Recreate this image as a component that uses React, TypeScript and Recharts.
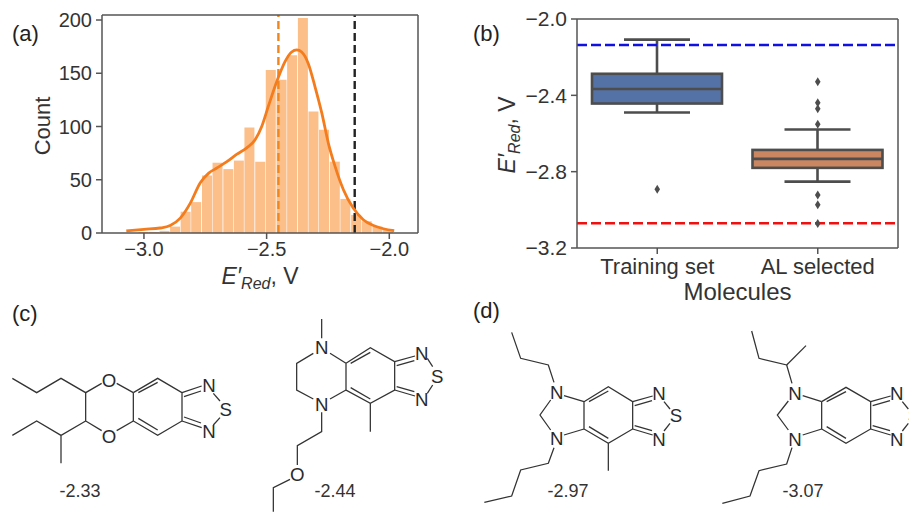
import React from "react";
import {
  Bar,
  ComposedChart,
  Line,
  ReferenceLine,
  XAxis,
  YAxis,
} from "recharts";

// panel (a) histogram
const binCenters = [
  -3.001, -2.958, -2.915, -2.872, -2.829, -2.786, -2.742, -2.699, -2.655, -2.612, -2.569, -2.525,
  -2.482, -2.438, -2.395, -2.351, -2.308, -2.265, -2.221, -2.178, -2.134, -2.091, -2.047, -2.004,
];
const binCounts = [1, 1, 2, 6, 20, 29, 54, 66, 60, 68, 99, 67, 153, 144, 167, 202, 114, 97, 67, 32, 17, 11, 6, 3];

// kde curve
const kdeX = [
  -3.072, -3.0, -2.934, -2.893, -2.852, -2.811, -2.771, -2.737, -2.703, -2.662, -2.621, -2.581, -2.547, -2.52,
  -2.493, -2.459, -2.425, -2.398, -2.377, -2.357, -2.33, -2.303, -2.275, -2.248, -2.221, -2.187, -2.147, -2.106,
  -2.065, -2.024, -1.98,
];
const kdeY = [
  2, 3.5, 4.7, 7, 14, 28, 47, 56, 61, 67, 74, 80, 87.5, 100, 119, 142, 161, 170, 172, 170, 159, 137.5, 112.5, 84,
  62.5, 40.6, 23.4, 12.5, 7, 4, 2.2,
];
const histTicksX = [-3, -2.5, -2];
const histTicksY = [0, 50, 100, 150, 200];
const meanLine = -2.452;
const limitLine = -2.141;

// panel (b) box plot
const groups = ["Training set", "AL selected"];
const whiskerLow = [-2.49, -2.852];
const q1 = [-2.443, -2.78];
const medians = [-2.367, -2.733];
const q3 = [-2.287, -2.686];
const whiskerHigh = [-2.108, -2.579];
const boxColors = ["#5572a6", "#c98660"];
const outliers = [[-2.892], [-2.329, -2.439, -2.47, -2.551, -2.922, -2.973, -3.072]];
const boxTicksY = [-3.2, -2.8, -2.4, -2.0];
const upperLimit = -2.136;
const lowerLimit = -3.07;

// molecule labels
const moleculeValues = ["-2.33", "-2.44", "-2.97", "-3.07"];

const histRows = binCenters.map((x, i) => ({ x, count: binCounts[i] }));
const kdeRows = kdeX.map((x, i) => ({ x, kde: kdeY[i] }));

const boxRows = groups.map((name, i) => {
  const row: any = {
    name,
    box: [q1[i], q3[i]],
    low: whiskerLow[i],
    q1: q1[i],
    median: medians[i],
    q3: q3[i],
    high: whiskerHigh[i],
    fill: boxColors[i],
  };
  outliers[i].forEach((v, j) => {
    row[`o${j}`] = v;
  });
  return row;
});

const FONT = "'Liberation Sans', Arial, sans-serif";
const SPINE = "#555555";
const TEXT = "#333333";
const BOX_LINE = "#4d4d4d";

const minus = (v: number, digits: number) => v.toFixed(digits).replace("-", "\u2212");

const tickStyle = { fontSize: 20, fill: TEXT, fontFamily: FONT };
const axisLine = { stroke: SPINE, strokeWidth: 1.5 };
const tickLine = { stroke: SPINE, strokeWidth: 1.5 };

function BoxShape(props: any) {
  const { x, y, width, height, payload } = props;
  // bar spans q1..q3 so its pixel height gives the y scale
  const perUnit = height / (payload.q3 - payload.q1);
  const toY = (v: number) => y + (payload.q3 - v) * perUnit;
  const cx = x + width / 2;
  const capHalf = 33;
  return (
    <g stroke={BOX_LINE} strokeWidth={2.6} fill="none">
      <line x1={cx} x2={cx} y1={toY(payload.high)} y2={y} />
      <line x1={cx} x2={cx} y1={y + height} y2={toY(payload.low)} />
      <line x1={cx - capHalf} x2={cx + capHalf} y1={toY(payload.high)} y2={toY(payload.high)} />
      <line x1={cx - capHalf} x2={cx + capHalf} y1={toY(payload.low)} y2={toY(payload.low)} />
      <rect x={x} y={y} width={width} height={height} fill={payload.fill} />
      <line x1={x} x2={x + width} y1={toY(payload.median)} y2={toY(payload.median)} />
    </g>
  );
}

function Diamond(props: any) {
  const { cx, cy, index } = props;
  if (cx == null || cy == null) return <g key={index} />;
  return (
    <polygon
      key={index}
      points={`${cx},${cy - 4.5} ${cx + 2.8},${cy} ${cx},${cy + 4.5} ${cx - 2.8},${cy}`}
      fill={BOX_LINE}
    />
  );
}

function HistPanel() {
  return (
    <div style={{ position: "absolute", left: 0, top: 0 }}>
      <ComposedChart
        width={440}
        height={290}
        data={histRows}
        margin={{ top: 0, right: 0, bottom: 0, left: 0 }}
        barGap={0}
      >
        <XAxis
          dataKey="x"
          type="number"
          domain={[-3.171, -1.883]}
          allowDataOverflow
          ticks={histTicksX}
          tickFormatter={(v: number) => minus(v, 1)}
          tick={tickStyle}
          axisLine={axisLine}
          tickLine={tickLine}
          tickSize={6}
          tickMargin={3}
          height={57}
          interval={0}
        />
        <XAxis
          xAxisId="top"
          orientation="top"
          dataKey="x"
          type="number"
          domain={[-3.171, -1.883]}
          allowDataOverflow
          ticks={histTicksX}
          tick={false}
          axisLine={axisLine}
          tickLine={tickLine}
          tickSize={6}
          height={15}
        />
        <YAxis
          domain={[0, 204.7]}
          allowDataOverflow
          ticks={histTicksY}
          tick={tickStyle}
          axisLine={axisLine}
          tickLine={tickLine}
          tickSize={6}
          tickMargin={4}
          width={102}
          interval={0}
          label={{
            value: "Count",
            angle: -90,
            position: "center",
            dx: -9,
            dy: 2,
            style: { fontSize: 22, fill: TEXT, fontFamily: FONT },
          }}
        />
        <YAxis
          yAxisId="right"
          orientation="right"
          domain={[0, 204.7]}
          allowDataOverflow
          ticks={histTicksY}
          tick={false}
          axisLine={axisLine}
          tickLine={tickLine}
          tickSize={6}
          width={22}
        />
        <Bar dataKey="count" barSize={10} fill="#fcbf8a" isAnimationActive={false} />
        <ReferenceLine x={meanLine} stroke="#f0861e" strokeWidth={2.4} strokeDasharray="8 4" />
        <ReferenceLine x={limitLine} stroke="#222222" strokeWidth={2.4} strokeDasharray="8 4" />
        {/* on the top axis so the curve's x values don't narrow the bars */}
        <Line
          xAxisId="top"
          data={kdeRows}
          dataKey="kde"
          type="monotone"
          stroke="#f47c1c"
          strokeWidth={2.8}
          dot={false}
          isAnimationActive={false}
        />
      </ComposedChart>
    </div>
  );
}

function BoxPanel() {
  return (
    <div style={{ position: "absolute", left: 450, top: 0 }}>
      <ComposedChart
        width={459}
        height={308}
        data={boxRows}
        margin={{ top: 0, right: 0, bottom: 0, left: 0 }}
      >
        <XAxis
          dataKey="name"
          tick={{ ...tickStyle, fontSize: 22 }}
          axisLine={axisLine}
          tickLine={tickLine}
          tickSize={6}
          tickMargin={4}
          height={60}
          interval={0}
          label={{
            value: "Molecules",
            position: "insideBottom",
            offset: 8,
            style: { fontSize: 24, fill: TEXT, fontFamily: FONT },
          }}
        />
        <XAxis
          xAxisId="top"
          orientation="top"
          dataKey="name"
          tick={false}
          axisLine={axisLine}
          tickLine={tickLine}
          tickSize={6}
          height={19}
        />
        <YAxis
          domain={[-3.2, -2.0]}
          ticks={boxTicksY}
          tickFormatter={(v: number) => minus(v, 1)}
          tick={{ ...tickStyle, fontSize: 21 }}
          axisLine={axisLine}
          tickLine={tickLine}
          tickSize={6}
          tickMargin={4}
          width={127}
          interval={0}
        />
        <YAxis
          yAxisId="right"
          orientation="right"
          domain={[-3.2, -2.0]}
          ticks={boxTicksY}
          tick={false}
          axisLine={axisLine}
          tickLine={tickLine}
          tickSize={6}
          width={11}
        />
        <ReferenceLine y={upperLimit} stroke="#1010e0" strokeWidth={2.5} strokeDasharray="10 4" />
        <ReferenceLine y={lowerLimit} stroke="#f01010" strokeWidth={2.5} strokeDasharray="10 4" />
        <Bar dataKey="box" barSize={130} shape={<BoxShape />} isAnimationActive={false} />
        {outliers[1].map((_, j) => (
          <Line
            key={j}
            dataKey={`o${j}`}
            stroke="none"
            dot={<Diamond />}
            activeDot={false}
            isAnimationActive={false}
          />
        ))}
      </ComposedChart>
    </div>
  );
}

// skeletal formulas, coordinates in 3x crop units of each bottom half
const molCLines = [
  [37, 250, 110, 293, 183, 250, 257, 293, 305, 265],
  [350, 265, 400, 293],
  [257, 293, 257, 378, 305, 407],
  [350, 407, 400, 378],
  [257, 378, 183, 421, 183, 505],
  [183, 421, 110, 378, 37, 421],
  [400, 293, 473, 250, 546, 293, 546, 378, 473, 421, 400, 378, 400, 293],
  [415, 293, 473, 262],
  [415, 370, 473, 405],
  [546, 293, 605, 273],
  [552, 305, 603, 288],
  [546, 378, 605, 398],
  [552, 366, 603, 384],
  [640, 295, 660, 318],
  [660, 368, 640, 390],
  // second molecule
  [965, 72, 965, 130],
  [940, 175, 890, 205, 890, 285, 940, 312],
  [990, 175, 1038, 205],
  [990, 312, 1038, 285],
  [1038, 205, 1111, 158, 1184, 200, 1184, 285, 1111, 325, 1038, 285, 1038, 205],
  [1052, 205, 1111, 172],
  [1052, 278, 1111, 312],
  [1111, 325, 1111, 410],
  [1184, 200, 1245, 183],
  [1190, 212, 1243, 197],
  [1184, 285, 1245, 303],
  [1190, 275, 1243, 290],
  [1282, 190, 1298, 215],
  [1298, 270, 1282, 295],
  [965, 352, 965, 410, 892, 452, 892, 510],
  [870, 553, 820, 578, 820, 650],
];
const molCAtoms: [string, number, number][] = [
  ["O", 327, 255],
  ["O", 327, 423],
  ["N", 627, 270],
  ["N", 627, 410],
  ["S", 677, 343],
  ["N", 965, 158],
  ["N", 965, 328],
  ["N", 1265, 175],
  ["N", 1265, 312],
  ["S", 1312, 243],
  ["O", 892, 538],
];
const molDLines = [
  [155, 112, 182, 190, 265, 210, 282, 262],
  [272, 315, 240, 360, 272, 405],
  [312, 302, 372, 320],
  [312, 420, 372, 402],
  [372, 320, 445, 275, 518, 320, 518, 402, 445, 445, 372, 402, 372, 320],
  [387, 320, 445, 288],
  [387, 395, 445, 430],
  [445, 445, 445, 527],
  [518, 320, 578, 303],
  [524, 332, 576, 317],
  [518, 402, 578, 420],
  [524, 392, 576, 407],
  [612, 320, 630, 342],
  [630, 385, 612, 408],
  [282, 458, 265, 505, 182, 525, 155, 603, 73, 622],
  // second molecule
  [875, 108, 897, 190, 980, 210, 996, 265],
  [980, 210, 1038, 152],
  [985, 318, 952, 360, 985, 405],
  [1028, 302, 1085, 320],
  [1028, 420, 1085, 402],
  [1085, 320, 1158, 277, 1232, 320, 1232, 402, 1158, 445, 1085, 402, 1085, 320],
  [1100, 320, 1158, 290],
  [1100, 395, 1158, 430],
  [1232, 320, 1292, 303],
  [1238, 332, 1290, 317],
  [1232, 402, 1292, 420],
  [1238, 392, 1290, 407],
  [1327, 320, 1345, 342],
  [1345, 385, 1327, 408],
  [996, 458, 980, 507, 897, 527, 870, 603, 787, 625],
];
const molDAtoms: [string, number, number][] = [
  ["N", 290, 293],
  ["N", 290, 430],
  ["N", 597, 295],
  ["N", 597, 432],
  ["S", 648, 362],
  ["N", 1005, 295],
  ["N", 1005, 432],
  ["N", 1310, 295],
  ["N", 1310, 432],
  ["S", 1362, 362],
];

function Molecule({ lines, atoms, x, y }: { lines: number[][]; atoms: [string, number, number][]; x: number; y: number }) {
  return (
    <g transform={`translate(${x},${y}) scale(${1 / 3})`}>
      {lines.map((l, i) => (
        <polyline key={i} points={l.join(",")} fill="none" stroke="#333" strokeWidth={3.8} />
      ))}
      {atoms.map(([a, ax, ay], i) => (
        <text key={i} x={ax} y={ay + 20} textAnchor="middle" fontSize={56} fill="#2a2a2a">
          {a}
        </text>
      ))}
    </g>
  );
}

function ERedLabel({ x, y, rotate }: { x: number; y: number; rotate?: boolean }) {
  return (
    <text
      x={x}
      y={y}
      textAnchor="middle"
      fontSize={23}
      fill={TEXT}
      transform={rotate ? `rotate(-90 ${x} ${y})` : undefined}
    >
      <tspan fontStyle="italic">{"E\u2032"}</tspan>
      <tspan fontStyle="italic" fontSize={16} dy={5}>
        Red
      </tspan>
      <tspan dy={-5}>, V</tspan>
    </text>
  );
}

function Overlay() {
  return (
    <svg
      width={909}
      height={513}
      style={{ position: "absolute", left: 0, top: 0, fontFamily: FONT, pointerEvents: "none" }}
    >
      <text x={12} y={41} fontSize={22} fill="#222">(a)</text>
      <text x={473} y={41} fontSize={22} fill="#222">(b)</text>
      <text x={12} y={321} fontSize={22} fill="#222">(c)</text>
      <text x={473} y={318} fontSize={22} fill="#222">(d)</text>
      <ERedLabel x={260} y={284} />
      <ERedLabel x={515} y={135} rotate />
      <Molecule lines={molCLines} atoms={molCAtoms} x={0} y={295} />
      <Molecule lines={molDLines} atoms={molDAtoms} x={460} y={295} />
      <text x={80} y={497} textAnchor="middle" fontSize={18} fill="#333">{moleculeValues[0]}</text>
      <text x={335} y={497} textAnchor="middle" fontSize={18} fill="#333">{moleculeValues[1]}</text>
      <text x={568} y={497} textAnchor="middle" fontSize={18} fill="#333">{moleculeValues[2]}</text>
      <text x={803} y={497} textAnchor="middle" fontSize={18} fill="#333">{moleculeValues[3]}</text>
    </svg>
  );
}

export default function App() {
  return (
    <div style={{ position: "absolute", left: 0, top: 0, width: 909, height: 513, background: "#fff", overflow: "hidden" }}>
      <HistPanel />
      <BoxPanel />
      <Overlay />
    </div>
  );
}
